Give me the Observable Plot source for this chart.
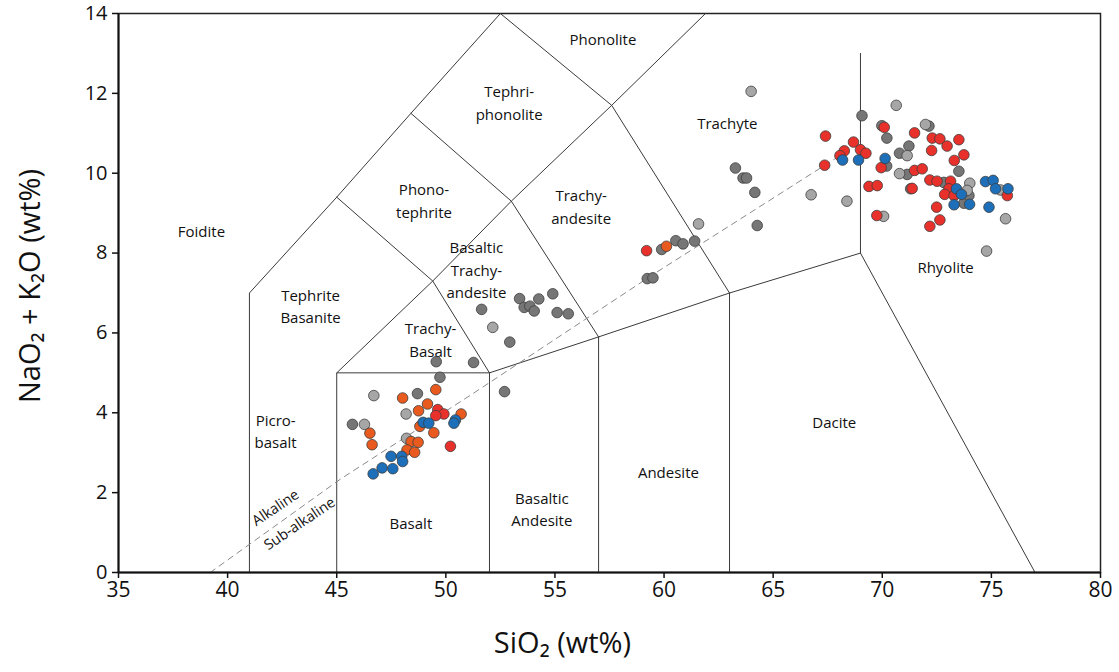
<!DOCTYPE html>
<html><head><meta charset="utf-8">
<script src="https://cdn.jsdelivr.net/npm/d3@7"></script>
<script src="https://cdn.jsdelivr.net/npm/@observablehq/plot@0.6"></script>
<style>body{margin:0;background:#fff}</style>
</head><body><div id="chart"></div>
<script>
// TAS field boundaries (SiO2, Na2O+K2O)
const boundaries = [
  [[41,0],[41,7],[45,9.4],[48.4,11.5],[52.5,14]],
  [[45,0],[45,5],[52,5],[52,0]],
  [[45,5],[49.4,7.3],[52,5]],
  [[52,5],[57,5.9],[57,0]],
  [[57,5.9],[63,7],[63,0]],
  [[63,7],[69,8],[77,0]],
  [[69,8],[69,13]],
  [[45,9.4],[49.4,7.3],[53,9.3],[57,5.9]],
  [[48.4,11.5],[53,9.3],[57.6,11.7],[63,7]],
  [[52.5,14],[57.6,11.7],[61.9,14]]
];
const alkalineLine = [[39.2,0],[45.2,2.35],[51.1,4.43],[59.6,7.5],[67.8,10.35],[68.6,10.6]];

const fieldNames = ["Phonolite","Tephri-\nphonolite","Trachyte","Phono-\ntephrite","Foidite","Trachy-\nandesite",
  "Basaltic\nTrachy-\nandesite","Tephrite\nBasanite","Trachy-\nBasalt","Rhyolite","Dacite","Picro-\nbasalt",
  "Andesite","Basaltic\nAndesite","Basalt"];
const fieldX = [57.2,52.9,62.9,49.0,38.8,56.2,51.4,43.8,49.3,72.9,67.8,42.2,60.2,54.4,48.4];
const fieldY = [13.4,11.8,11.29,9.35,8.59,9.2,7.61,6.71,5.86,7.69,3.81,3.57,2.55,1.62,1.28];

const seriesNames = ["Alkaline","Sub-alkaline"];
const seriesX = [42.2,43.3];
const seriesY = [1.62,1.22];

const xTicks = [35,40,45,50,55,60,65,70,75,80];
const yTicks = [0,2,4,6,8,10,12,14];

// Samples
const darkGray = [
  [49.56,5.28],[49.73,4.89],[48.70,4.48],[45.72,3.71],[51.27,5.26],[52.69,4.53],
  [51.64,6.59],[52.93,5.77],[53.38,6.86],[53.59,6.64],[53.85,6.67],[54.05,6.55],[54.26,6.85],[54.90,6.98],[55.10,6.51],[55.61,6.48],
  [63.27,10.13],[63.62,9.88],[63.78,9.88],[64.16,9.52],[64.27,8.69],[60.54,8.31],[60.87,8.23],[61.40,8.30],[59.89,8.09],[59.23,7.36],[59.49,7.38],
  [69.07,11.44],[69.98,11.19],[70.21,10.88],[70.79,10.50],[71.14,9.97],[72.14,11.18],[71.22,10.68],[73.51,10.05],
  [73.74,9.25],[70.2,10.18],[71.3,9.61],[72.82,9.77],[73.97,9.44]
];
const lightGray = [
  [46.70,4.43],[48.18,3.97],[46.27,3.71],[48.20,3.36],[52.15,6.14],
  [63.99,12.05],[66.74,9.46],[61.58,8.73],
  [70.64,11.70],[71.14,10.44],[70.79,9.99],[71.98,11.22],[74.01,9.75],[75.42,9.58],[73.89,9.57],
  [75.65,8.86],[74.78,8.05],[68.38,9.30],[70.06,8.92]
];
const orangePts = [
  [49.54,4.58],[48.02,4.37],[49.16,4.22],[48.75,4.05],[46.52,3.49],[46.62,3.20],[48.81,3.66],[49.45,3.50],
  [48.41,3.28],[48.73,3.26],[48.22,3.07],[48.57,3.01],[50.70,3.97],[60.11,8.17]
];
const redPts = [
  [49.63,4.08],[49.91,3.97],[49.54,3.93],[50.21,3.16],[59.20,8.06],
  [70.09,11.15],[67.40,10.93],[68.68,10.78],[68.26,10.56],[68.06,10.44],[69.00,10.59],[69.25,10.50],[67.36,10.20],[69.95,10.14],
  [69.39,9.67],[69.77,9.69],[69.75,8.94],
  [71.48,11.01],[72.29,10.88],[72.64,10.86],[73.51,10.84],[72.97,10.68],[72.26,10.57],[73.74,10.46],[73.30,10.32],
  [71.48,10.07],[71.83,10.11],[72.18,9.83],[72.51,9.80],[73.13,9.80],[75.73,9.44],[71.37,9.62],
  [73.05,9.61],[72.86,9.47],[73.29,9.44],[72.49,9.15],[72.64,8.83],[72.18,8.67]
];
const bluePts = [
  [48.96,3.76],[49.22,3.74],[50.44,3.82],[50.37,3.74],[47.49,2.91],[47.98,2.91],[48.02,2.78],[47.08,2.62],[47.57,2.60],[46.67,2.47],
  [68.18,10.33],[68.91,10.33],[70.13,10.37],
  [74.73,9.79],[75.08,9.82],[75.19,9.61],[75.76,9.61],[73.40,9.61],[73.63,9.47],[73.29,9.21],[74.0,9.22],[74.89,9.15]
];

const groups = [
  {pts: darkGray, color: "#767676"},
  {pts: lightGray, color: "#a6a6a6"},
  {pts: orangePts, color: "#e85a1e"},
  {pts: redPts, color: "#e8312b"},
  {pts: bluePts, color: "#1c6fb8"}
];
const dots = groups.flatMap(g => g.pts.map(([x,y]) => ({x, y, color: g.color})));
const boundaryRows = boundaries.flatMap((b,i) => b.map(([x,y]) => ({x, y, id: i})));
const dashRows = alkalineLine.map(([x,y]) => ({x, y}));
const fieldRows = fieldNames.map((t,i) => ({text: t, x: fieldX[i], y: fieldY[i]}));
const seriesRows = seriesNames.map((t,i) => ({text: t, x: seriesX[i], y: seriesY[i]}));

const font = "'Open Sans', 'Noto Sans', 'DejaVu Sans', sans-serif";
const narrow = "'Liberation Sans Narrow', 'Open Sans', sans-serif";
const chart = Plot.plot({
  width: 1119, height: 672,
  marginLeft: 118, marginRight: 19, marginTop: 13, marginBottom: 100,
  x: {domain: [35, 80]},
  y: {domain: [0, 14]},
  color: {type: "identity"},
  style: {fontFamily: font, background: "#fff", color: "#111"},
  marks: [
    Plot.frame({stroke: "#222", strokeWidth: 1.5}),
    Plot.line(boundaryRows, {x: "x", y: "y", z: "id", stroke: "#3a3a3a", strokeWidth: 1}),
    Plot.line(dashRows, {x: "x", y: "y", stroke: "#8a8a8a", strokeWidth: 1, strokeDasharray: "6,5"}),
    Plot.text(fieldRows, {x: "x", y: "y", text: "text", fontSize: 15, lineHeight: 1.5, fill: "#111"}),
    Plot.text(seriesRows, {x: "x", y: "y", text: "text", fontSize: 14.5, rotate: -34, fill: "#111"}),
    Plot.dot(dots, {x: "x", y: "y", fill: "color", r: 5.3, stroke: "#3d3d3d", strokeWidth: 0.8}),
    Plot.ruleX([35], {stroke: "#111", strokeWidth: 2}),
    Plot.ruleY([0], {stroke: "#111", strokeWidth: 2}),
    Plot.axisX({ticks: xTicks, tickSize: 6, tickPadding: 4, fontSize: 21, fontFamily: narrow, label: null, stroke: "#111", strokeWidth: 1.5}),
    Plot.axisY({ticks: yTicks, tickSize: 6, tickPadding: 5, fontSize: 20, fontFamily: narrow, label: null, stroke: "#111", strokeWidth: 1.5}),
    Plot.text(["SiO₂ (wt%)"], {frameAnchor: "bottom", textAnchor: "middle", dx: -47, dy: 80, fontSize: 29, fill: "#111"}),
    Plot.text(["NaO₂ + K₂O (wt%)"], {frameAnchor: "left", textAnchor: "middle", dx: -88, dy: -7, rotate: -90, fontSize: 29, fill: "#111"})
  ]
});
document.getElementById("chart").appendChild(chart);
</script>
</body></html>
